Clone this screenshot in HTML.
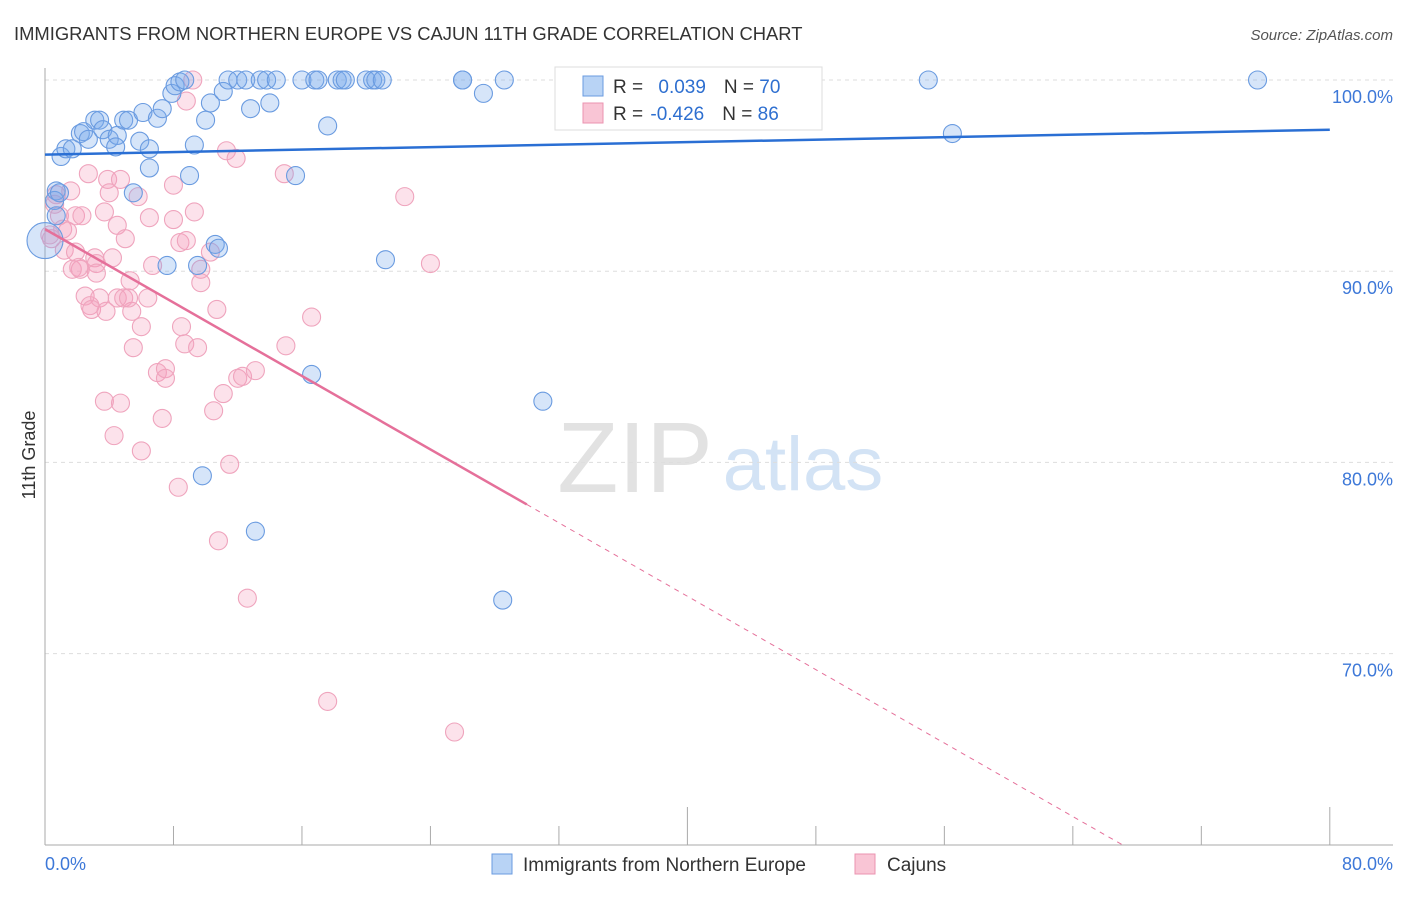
<!DOCTYPE html>
<html><head><meta charset="utf-8"><style>
body{margin:0;background:#fff;font-family:"Liberation Sans",sans-serif}
svg text{font-family:"Liberation Sans",sans-serif}
</style></head><body>
<svg id="chart" width="1406" height="892">
<text x="14" y="40" font-size="18.4" fill="#333">IMMIGRANTS FROM NORTHERN EUROPE VS CAJUN 11TH GRADE CORRELATION CHART</text>
<text x="1393" y="40" font-size="15" fill="#555" font-style="italic" text-anchor="end">Source: ZipAtlas.com</text>
<text x="35" y="455" font-size="18" fill="#333" transform="rotate(-90 35 455)" text-anchor="middle">11th Grade</text>
<g><text x="635" y="492" font-size="100" fill="#e2e2e2" font-family="Liberation Serif" text-anchor="middle">ZIP</text><text x="803" y="490" font-size="76" fill="#d3e3f5" text-anchor="middle">atlas</text></g>
<g id="grid"></g><g id="axes"></g><g id="pts"></g><g id="trends"></g>
<g>
<rect x="555" y="67" width="267" height="63" fill="#fff" stroke="#ddd"/>
<rect x="583" y="76" width="20" height="20" fill="#b8d3f5" stroke="#6a9be0"/>
<rect x="583" y="103" width="20" height="20" fill="#f9c5d5" stroke="#eb93b0"/>
<text x="613" y="93" font-size="19" fill="#333">R = <tspan fill="#2e6fd0" dx="10">0.039</tspan><tspan dx="18" fill="#333">N = </tspan><tspan fill="#2e6fd0">70</tspan></text>
<text x="613" y="120" font-size="19" fill="#333">R = <tspan fill="#2e6fd0" dx="2">-0.426</tspan><tspan dx="18" fill="#333">N = </tspan><tspan fill="#2e6fd0">86</tspan></text>
</g>
<g>
<rect x="492" y="854" width="20" height="20" fill="#b8d3f5" stroke="#6a9be0"/>
<text x="523" y="871" font-size="19" fill="#333">Immigrants from Northern Europe</text>
<rect x="855" y="854" width="20" height="20" fill="#f9c5d5" stroke="#eb93b0"/>
<text x="887" y="871" font-size="19" fill="#333">Cajuns</text>
</g>
</svg>
<script>
const yTicks=[100,90,80,70];
const xTickLabels=["0.0%","80.0%"];
const blueX=[0.0,0.7,0.6,1.0,1.3,1.7,2.2,2.4,3.1,3.4,2.7,3.6,4.0,4.5,4.9,5.2,4.4,5.9,6.1,6.5,7.0,7.3,7.9,8.1,8.4,8.7,9.3,10.0,10.3,11.1,11.4,12.0,12.5,12.8,13.4,13.8,14.0,14.4,16.0,16.8,17.0,18.2,18.5,18.7,20.0,20.4,20.6,21.0,26.0,26.0,27.3,28.6,33.0,55.0,75.5,56.5,17.6,15.6,9.0,5.5,6.5,10.6,10.8,9.5,7.6,21.2,16.6,31.0,9.8,13.1,28.5,0.9,0.7];
const blueY=[91.6,94.2,93.7,96.0,96.4,96.4,97.2,97.3,97.9,97.9,96.9,97.4,96.9,97.1,97.9,97.9,96.5,96.8,98.3,96.4,98.0,98.5,99.3,99.7,99.9,100,96.6,97.9,98.8,99.4,100,100,100,98.5,100,100,98.8,100,100,100,100,100,100,100,100,100,100,100,100,100,99.3,100,100,100,100,97.2,97.6,95.0,95.0,94.1,95.4,91.4,91.2,90.3,90.3,90.6,84.6,83.2,79.3,76.4,72.8,94.1,92.9];
const pinkX=[0.6,0.7,1.6,0.9,1.1,0.4,0.3,1.4,1.9,2.3,2.7,1.2,1.9,1.7,2.2,2.1,3.1,3.2,4.2,3.2,3.9,4.0,4.5,5.0,3.7,5.8,6.5,6.7,5.3,5.4,2.5,2.8,3.4,2.9,4.5,4.9,5.2,6.4,6.0,5.5,3.8,3.7,4.7,4.3,6.0,7.3,7.0,7.5,7.5,8.5,8.7,9.5,8.0,8.0,8.4,8.8,9.3,9.7,9.7,8.8,9.2,10.3,10.7,10.5,11.1,11.5,12.0,12.3,13.1,11.3,11.9,14.9,15.0,16.6,22.4,24.0,8.3,10.8,12.6,17.6,25.5,4.7];
const pinkY=[93.5,94.0,94.2,92.9,92.2,91.7,91.9,92.1,92.9,92.9,95.1,91.1,91.0,90.1,90.1,90.2,90.7,90.4,90.7,89.9,94.8,94.1,92.4,91.7,93.1,93.9,92.8,90.3,89.5,87.9,88.7,88.2,88.6,88.0,88.6,88.6,88.6,88.6,87.1,86.0,87.9,83.2,83.1,81.4,80.6,82.3,84.7,84.9,84.4,87.1,86.2,86.0,92.7,94.5,91.5,91.6,93.1,90.1,89.4,98.9,100,91.0,88.0,82.7,83.6,79.9,84.4,84.5,84.8,96.3,95.9,95.1,86.1,87.6,93.9,90.4,78.7,75.9,72.9,67.5,65.9,94.8];
const blueTrend=[96.1,97.4];
const pinkTrend=[92.2,-0.48];
const NS="http://www.w3.org/2000/svg";
const xs=v=>45+v*16.06, ys=v=>80+(100-v)*19.12;
function mk(t,a,p){const e=document.createElementNS(NS,t);for(const k in a)e.setAttribute(k,a[k]);document.getElementById(p).appendChild(e);return e;}
yTicks.forEach(t=>{
 const l=mk('line',{x1:45,x2:1393,y1:ys(t),y2:ys(t),stroke:'#ddd','stroke-dasharray':'4,4'},'grid');
 
 
 const tx=mk('text',{x:1393,y:ys(t)+23,'font-size':18,fill:'#3d78d8','text-anchor':'end'},'grid');
 tx.textContent=t.toFixed(1)+'%';
 
 
});
let a=mk('line',{x1:45,x2:45,y1:68,y2:845,stroke:'#aaa'},'axes');


a=mk('line',{x1:45,x2:1393,y1:845,y2:845,stroke:'#aaa'},'axes');


for(let i=1;i<=10;i++){const x=xs(i*8);const long=(i==5||i==10);
 const t=mk('line',{x1:x,x2:x,y1:long?807:826,y2:845,stroke:'#aaa'},'axes');
 
 }
xTickLabels.forEach((s,i)=>{const t=mk('text',{x:i?1393:45,y:870,'font-size':18,fill:'#3d78d8','text-anchor':i?'end':'start'},'axes');t.textContent=s;
 
 });
pinkX.forEach((x,i)=>{const c=mk('circle',{cx:xs(x),cy:ys(pinkY[i]),r:9,fill:'rgba(244,160,188,0.3)',stroke:'#efa4bd','stroke-width':1.1},'pts');
 
 });
blueX.forEach((x,i)=>{const c=mk('circle',{cx:xs(x),cy:ys(blueY[i]),r:i==0?18:9,fill:'rgba(120,170,235,0.3)',stroke:'#6a9be0','stroke-width':1.1},'pts');
 
 });
let l=mk('line',{x1:xs(0),y1:ys(blueTrend[0]),x2:xs(80),y2:ys(blueTrend[1]),stroke:'#2a6fd4','stroke-width':2.5},'trends');


l=mk('line',{x1:xs(0),y1:ys(pinkTrend[0]),x2:xs(30),y2:ys(pinkTrend[0]+pinkTrend[1]*30),stroke:'#e5709a','stroke-width':2.5},'trends');


const xe=(60-pinkTrend[0])/pinkTrend[1];
l=mk('line',{x1:xs(30),y1:ys(pinkTrend[0]+pinkTrend[1]*30),x2:xs(xe),y2:ys(60),stroke:'#e5709a','stroke-width':1,'stroke-dasharray':'5,5'},'trends');


</script>
</body></html>
